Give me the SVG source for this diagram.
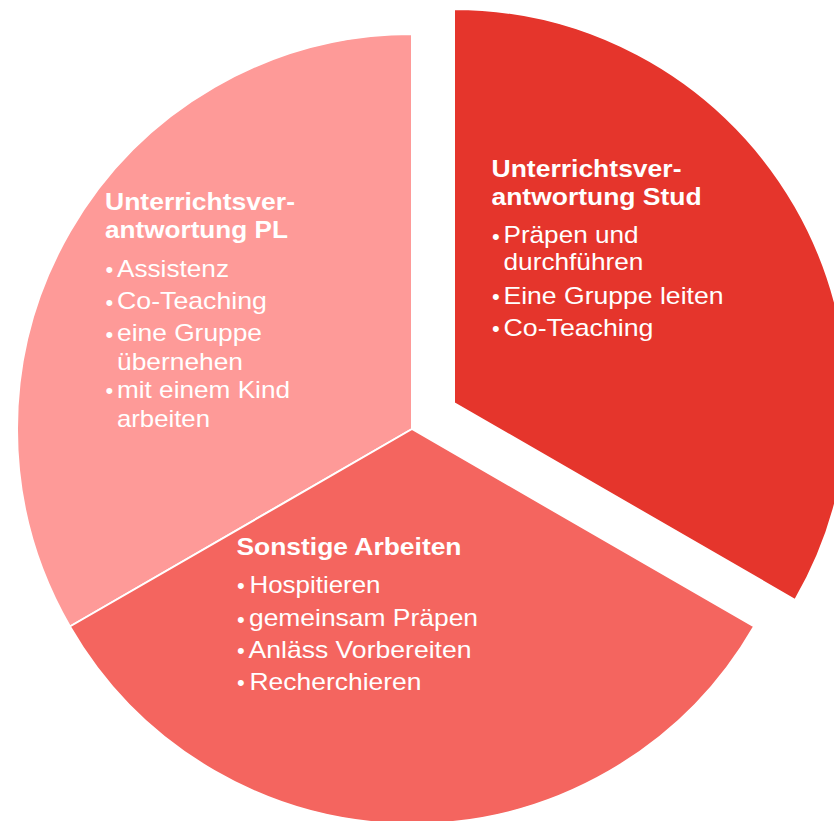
<svg xmlns="http://www.w3.org/2000/svg" width="834" height="821" viewBox="0 0 834 821">
<style>
.sec{stroke:#ffffff;stroke-width:2;stroke-linejoin:round}
.t{font-family:"Liberation Sans",Arial,sans-serif;fill:#ffffff;font-size:23px}
.b{font-family:"Liberation Sans",Arial,sans-serif;fill:#ffffff;font-size:23.5px;font-weight:bold}
.d{font-family:"Liberation Sans",Arial,sans-serif;fill:#ffffff;font-size:22px}
</style>
<rect width="834" height="821" fill="#ffffff"/>
<g id="sector-pl">
<path class="sec" fill="#FE9A98" d="M412,429 L69.9,626.5 A395,395 0 0 1 412,34 Z"/>
<text class="d" x="105.5" y="277">•</text>
<text class="d" x="105.5" y="309.5">•</text>
<text class="d" x="105.5" y="341.5">•</text>
<text class="d" x="105.5" y="398">•</text>
<g transform="scale(1.18,1)">
<text class="b" x="88.98" y="210" textLength="161" lengthAdjust="spacingAndGlyphs">Unterrichtsver-</text>
<text class="b" x="88.98" y="238.5" textLength="155" lengthAdjust="spacingAndGlyphs">antwortung PL</text>
<text class="t" x="99.15" y="277" textLength="94.9" lengthAdjust="spacingAndGlyphs">Assistenz</text>
<text class="t" x="99.15" y="309.5" textLength="127.1" lengthAdjust="spacingAndGlyphs">Co-Teaching</text>
<text class="t" x="99.15" y="341.5" textLength="122.9" lengthAdjust="spacingAndGlyphs">eine Gruppe</text>
<text class="t" x="99.15" y="370" textLength="106.8" lengthAdjust="spacingAndGlyphs">übernehen</text>
<text class="t" x="99.15" y="398" textLength="146.6" lengthAdjust="spacingAndGlyphs">mit einem Kind</text>
<text class="t" x="99.15" y="427" textLength="78.8" lengthAdjust="spacingAndGlyphs">arbeiten</text>
</g>
</g>
<g id="sector-sonstige">
<path class="sec" fill="#F4655F" d="M412,429 L754.1,626.5 A395,395 0 0 1 69.9,626.5 Z"/>
<text class="d" x="237" y="593">•</text>
<text class="d" x="237" y="626.5">•</text>
<text class="d" x="237" y="658">•</text>
<text class="d" x="237" y="690">•</text>
<g transform="scale(1.18,1)">
<text class="b" x="200.42" y="555" textLength="190.7" lengthAdjust="spacingAndGlyphs">Sonstige Arbeiten</text>
<text class="t" x="211.44" y="593" textLength="111" lengthAdjust="spacingAndGlyphs">Hospitieren</text>
<text class="t" x="211.02" y="626.5" textLength="194.1" lengthAdjust="spacingAndGlyphs">gemeinsam Präpen</text>
<text class="t" x="210.59" y="658" textLength="189" lengthAdjust="spacingAndGlyphs">Anläss Vorbereiten</text>
<text class="t" x="211.44" y="690" textLength="145.8" lengthAdjust="spacingAndGlyphs">Recherchieren</text>
</g>
</g>
<g id="sector-stud">
<path class="sec" fill="#E5352C" d="M454,403 L454,9 A394,394 0 0 1 795.2,600 Z"/>
<text class="d" x="492" y="243.5">•</text>
<text class="d" x="492" y="304">•</text>
<text class="d" x="492" y="336">•</text>
<g transform="scale(1.18,1)">
<text class="b" x="416.53" y="177" textLength="161" lengthAdjust="spacingAndGlyphs">Unterrichtsver-</text>
<text class="b" x="416.53" y="205" textLength="178" lengthAdjust="spacingAndGlyphs">antwortung Stud</text>
<text class="t" x="426.69" y="243.5" textLength="114.4" lengthAdjust="spacingAndGlyphs">Präpen und</text>
<text class="t" x="426.69" y="270.5" textLength="118.6" lengthAdjust="spacingAndGlyphs">durchführen</text>
<text class="t" x="426.69" y="304" textLength="186.4" lengthAdjust="spacingAndGlyphs">Eine Gruppe leiten</text>
<text class="t" x="426.69" y="336" textLength="127.1" lengthAdjust="spacingAndGlyphs">Co-Teaching</text>
</g>
</g>
</svg>
